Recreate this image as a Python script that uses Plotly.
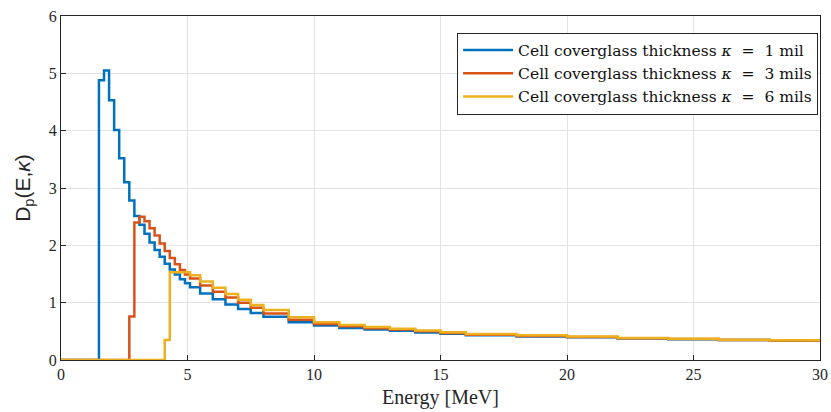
import plotly.graph_objects as go

# Energy bin starts [MeV]; last edge is 30
bin_start = [0, 1.5, 1.7, 1.9, 2.1, 2.3, 2.5, 2.7, 2.9, 3.1, 3.3, 3.5, 3.7, 3.9, 4.1, 4.3, 4.5, 4.7, 4.9,
             5.1, 5.5, 6.0, 6.5, 7.0, 7.5,
             8, 9, 10, 11, 12, 13, 14, 15,
             16, 18, 20, 22, 24, 26, 28]
e_max = 30

d_1mil = [0, 4.88, 5.05, 4.53, 4.01, 3.52, 3.10, 2.78, 2.51, 2.36, 2.20, 2.05, 1.92, 1.80, 1.68, 1.58, 1.49, 1.41, 1.34,
          1.27, 1.16, 1.06, 0.97, 0.89, 0.82,
          0.755, 0.66, 0.60, 0.56, 0.53, 0.51, 0.48, 0.46,
          0.43, 0.41, 0.395, 0.375, 0.36, 0.35, 0.34]
d_3mil = [0, 0, 0, 0, 0, 0, 0, 0.76, 2.40, 2.50, 2.42, 2.30, 2.17, 2.03, 1.90, 1.78, 1.67, 1.57, 1.49,
          1.42, 1.30, 1.19, 1.09, 1.00, 0.91,
          0.81, 0.70, 0.63, 0.59, 0.555, 0.53, 0.50, 0.47,
          0.44, 0.42, 0.40, 0.38, 0.365, 0.35, 0.34]
d_6mil = [0, 0, 0, 0, 0, 0, 0, 0, 0, 0, 0, 0, 0, 0, 0.35, 1.53, 1.53, 1.53, 1.53,
          1.48, 1.37, 1.26, 1.15, 1.05, 0.96,
          0.87, 0.745, 0.66, 0.61, 0.575, 0.545, 0.515, 0.485,
          0.455, 0.43, 0.41, 0.385, 0.37, 0.355, 0.345]

names = ["Cell coverglass thickness <i>κ</i>&nbsp; =&nbsp; 1 mil",
         "Cell coverglass thickness <i>κ</i>&nbsp; =&nbsp; 3 mils",
         "Cell coverglass thickness <i>κ</i>&nbsp; =&nbsp; 6 mils"]
colors = ["#0072BD", "#D95319", "#EDB120"]

fig = go.Figure()
for vals, name, col in zip([d_1mil, d_3mil, d_6mil], names, colors):
    fig.add_trace(go.Scatter(
        x=bin_start + [e_max], y=vals + [vals[-1]],
        mode="lines", line=dict(shape="hv", color=col, width=2.5),
        name=name))

serif = "Liberation Serif, DejaVu Serif, serif"
axis_common = dict(
    showgrid=True, gridcolor="#e3e3e3", gridwidth=1,
    showline=True, linecolor="#262626", linewidth=1, mirror=True,
    ticks="inside", ticklen=5, tickcolor="#262626",
    tickfont=dict(family=serif, size=16, color="#262626"),
    zeroline=False, automargin=False,
)
fig.update_layout(
    width=831, height=412,
    margin=dict(l=61, r=11, t=16, b=52),
    paper_bgcolor="white", plot_bgcolor="white",
    xaxis=dict(range=[0, 30], tickvals=[0, 5, 10, 15, 20, 25, 30],
               title=dict(text="Energy [MeV]", font=dict(family=serif, size=20, color="#262626"), standoff=7),
               **axis_common),
    yaxis=dict(range=[0, 6], tickvals=[0, 1, 2, 3, 4, 5, 6],
               title=dict(text="D<sub>p</sub>(E,<i>κ</i>)", font=dict(family="Liberation Sans, Arial, sans-serif", size=21, color="#262626"), standoff=12),
               **axis_common),
    legend=dict(x=0.9975, y=0.952, xanchor="right", yanchor="top",
                bgcolor="white", bordercolor="#262626", borderwidth=1,
                font=dict(family="DejaVu Serif, serif", size=15.5, color="#111111"),
                tracegroupgap=0, itemwidth=50),
    showlegend=True,
)

fig.write_html("out.html")
